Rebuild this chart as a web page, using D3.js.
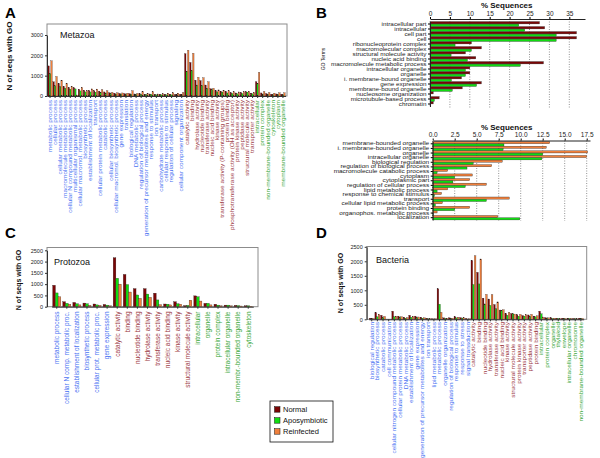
<!DOCTYPE html>
<html><head><meta charset="utf-8">
<script src="https://cdn.jsdelivr.net/npm/d3@7"></script>
<style>body{margin:0;background:#fff} svg{display:block} text{font-family:"Liberation Sans",Arial,sans-serif}</style>
</head><body>
<svg id="c" width="600" height="458"></svg>
<script>
// ---------- DATA ----------
const seriesNames = ["Normal", "Aposymbiotic", "Reinfected"];

// Panel A (Metazoa)
const aBP = ["metabolic process","cellular process","cellular metabolic process","macromolecule metabolic process","cellular N compound metabolic process","multicellular organismal process","cellular macromol. metabolic process","biosynthetic process","establishment of localization","transport","cellular protein metabolic process","catabolic process","cellular biosynthetic process","cellular macromol. biosynthetic process","gene expression","translation","biological regulation","DNA metabolic process","regulation of biological process","generation of precursor metabolites and energy","response to stimulus","ion transport","carbohydrate metabolic process","cellular response to stimulus","regulation of cellular process","signaling","cellular component organization"];
const aMF = ["catalytic activity","binding","hydrolase activity","nucleotide binding","transferase activity","nucleic acid binding","kinase activity","transferase activity (P-containing groups)","protein binding","phosphotransferase activity (OH as acceptor)","protein kinase activity","peptidase activity","structural molecule activity","transporter activity"];
const aCC = ["intracellular","protein complex","non-membrane-bounded organelle","cytoskeleton","cytoplasm","membrane-bounded organelle"];
const aNormal = [1480,700,620,470,420,400,330,280,270,260,240,200,160,140,130,120,120,100,110,90,100,80,80,80,90,80,90,
  2080,1650,780,760,540,360,270,240,230,160,150,170,210,140,
  700,150,120,90,100,90];
const aApo = [1100,500,460,380,330,350,250,200,200,190,180,150,110,100,100,80,90,80,80,70,80,60,60,60,60,60,60,
  1220,1250,540,520,380,320,200,190,150,120,110,120,190,110,
  620,100,90,60,70,60];
const aReinf = [1730,960,780,620,470,50,420,270,350,340,310,260,180,160,150,140,260,130,220,120,210,100,110,140,160,140,170,
  2250,2100,920,900,700,380,300,270,260,210,200,210,230,180,
  1160,220,170,140,160,160];
const aTicks = [0,1000,2000,3000];

// Panel B top (% sequences, Normal vs Aposymbiotic)
const bTopTerms = ["intracellular part","intracellular","cell part","cell","ribonucleoprotein complex","macromolecular complex","structural molecule activity","nucleic acid binding","macromolecule metabolic process","intracellular organelle","organelle","i. membrane-bound organelle","gene expression","membrane-bound organelle","nucleosome organization","microtubule-based process","chromatin"];
const bTopNormal = [27.5,28.8,36.8,36.8,10.4,12.9,8.9,11.5,28.5,10.0,10.0,7.9,12.9,8.1,0.8,2.3,0.8];
const bTopApo = [22.3,23.8,31.7,31.7,6.3,10.4,5.3,9.4,22.7,8.9,8.9,5.4,11.7,5.6,0.1,1.1,0.1];
const bTopTicks = [0,5,10,15,20,25,30,35];

// Panel B bottom (% sequences, Reinfected vs Aposymbiotic)
const bBotTerms = ["membrane-bounded organelle","i. membrane-bounded organelle","organelle","intracellular organelle","biological regulation","regulation of biological process","macromolecule catabolic process","cytoplasm","cytoplasmic part","regulation of cellular process","lipid metabolic process","response to chemical stimulus","transport","cellular lipid metabolic process","protein binding","organophos. metabolic process","localization"];
const bBotReinf = [13.3,12.9,17.6,17.5,7.9,6.7,1.7,4.5,4.2,6.1,1.7,1.0,8.7,1.1,4.2,0.5,7.4];
const bBotApo = [8.1,8.0,12.5,12.4,4.6,3.9,0.5,2.5,2.3,3.7,0.5,0.2,6.1,0.3,2.5,0.05,9.9];
const bBotTicks = [0,2.5,5,7.5,10,12.5,15,17.5];

// Panel C (Protozoa)
const cBP = ["metabolic process","cellular N comp. metabolic proc.","establishment of localization","biosynthetic process","cellular prot. metabolic proc.","gene expression"];
const cMF = ["catalytic activity","binding","nucleotide binding","hydrolase activity","transferase activity","nucleic acid binding","kinase activity","structural molecule activity"];
const cCC = ["intracellular","organelle","protein complex","intracellular organelle","non-membr.-bounded organelle","cytoskeleton"];
const cNormal = [950,220,190,160,120,100, 2170,1430,800,800,600,120,220,50, 480,150,110,70,60,40];
const cApo = [610,150,130,130,80,70, 1260,980,520,560,300,110,130,60, 440,150,70,70,50,40];
const cReinf = [440,105,80,60,60,40, 1000,650,370,415,90,80,110,290, 250,80,40,40,30,20];
const cTicks = [0,500,1000,1500,2000,2500];

// Panel D (Bacteria)
const dBP = ["biological regulation","biosynthetic process","catabolic process","cell communication","cellular nitrogen compound metabolic process","cellular protein metabolic process","DNA metabolic process","establishment of localization","gene expression","generation of precursor metabolites and energy","ion transport","lipid metabolic process","metabolic process","organelle organization","regulation of biological process","response to stimulus","response to stress","signal transduction"];
const dMF = ["catalytic activity","binding","nucleotide binding","hydrolase activity","transferase activity","nucleic acid binding","kinase activity","structural molecule activity","protein kinase activity","transporter activity","peptidase activity","protein binding"];
const dCC = ["intracellular","protein complex","organelle","thylakoid","envelope","intracellular organelle","chromosome","non-membrane-bounded organelle"];
const dNormal = [40,230,140,0,280,110,70,140,110,70,40,20,1050,50,50,90,60,30,
  2030,1620,730,700,510,320,200,200,160,130,150,110,
  280,60,50,40,40,40,30,40];
const dApo = [20,90,60,0,90,70,40,70,60,40,20,10,520,30,30,50,40,10,
  1200,1220,530,480,360,300,140,190,110,110,100,90,
  190,40,30,30,30,30,20,30];
const dReinf = [30,170,100,0,110,90,60,100,80,50,30,20,240,40,40,70,50,20,
  2190,2080,860,850,600,330,240,180,170,160,170,120,
  80,50,40,30,30,30,20,30];
const dTicks = [0,500,1000,1500,2000,2500];

// ---------- STYLE ----------
const SERIES_COL = ["#7b0505", "#11dd11", "#f0803c"];
const DOMCOL = {BP: "#4a72f2", MF: "#9c3b45", CC: "#3aa83a"};
const svg = d3.select("#c");

function vPanel(o) {
  const g = svg.append("g");
  const cats = o.bp.concat(o.mf, o.cc);
  const doms = o.bp.map(() => "BP").concat(o.mf.map(() => "MF"), o.cc.map(() => "CC"));
  const idx = d3.range(cats.length);
  const x = d3.scaleBand().domain(idx).range([o.r0, o.r1]).paddingInner(o.pad).paddingOuter(o.pad / 2);
  const xs = d3.scaleBand().domain([0, 1, 2]).range([0, x.bandwidth()]);
  const y = d3.scaleLinear().domain([0, o.yRef]).range([o.base, o.yRefPix]);
  g.append("rect").attr("x", o.fx0).attr("y", o.ftop).attr("width", o.fx1 - o.fx0).attr("height", o.base - o.ftop)
    .attr("fill", "none").attr("stroke", "#8c8c8c").attr("stroke-width", 1);
  [o.n, o.a, o.r].forEach((vals, s) => {
    g.append("g").selectAll("rect").data(idx).join("rect")
      .attr("x", i => x(i) + xs(s)).attr("width", xs.bandwidth())
      .attr("y", i => y(vals[i])).attr("height", i => o.base - y(vals[i]))
      .attr("fill", SERIES_COL[s]).attr("stroke", "#2a1a1a").attr("stroke-width", o.stroke);
  });
  g.append("g").attr("transform", `translate(${o.fx0},0)`)
    .call(d3.axisLeft(y).tickValues(o.ticks).tickSize(2).tickSizeOuter(0).tickPadding(2).tickFormat(d3.format("d")))
    .call(a => { a.select(".domain").attr("stroke", "#333");
      a.selectAll("line").attr("stroke", "#333");
      a.selectAll("text").attr("font-size", o.tickFont).attr("fill", "#222").attr("font-family", null); });
  g.append("g").attr("transform", `translate(0,${o.base})`)
    .call(d3.axisBottom(x).tickSize(2).tickSizeOuter(0).tickFormat(""))
    .call(a => { a.select(".domain").attr("stroke", "#333"); a.selectAll("line").attr("stroke", "#333"); });
  g.append("g").selectAll("text").data(idx).join("text")
    .attr("transform", i => `translate(${x(i) + x.bandwidth() / 2},${o.labY}) rotate(-90) scale(${o.labStretch},1)`)
    .attr("text-anchor", "end").attr("dy", "0.35em").attr("font-size", o.labFont)
    .attr("fill", i => DOMCOL[doms[i]]).text(i => cats[i]);
  g.append("text").attr("x", o.nameX).attr("y", o.nameY).attr("font-size", 9).attr("fill", "#111").text(o.name);
  g.append("text").attr("transform", `translate(${o.ytX},${o.ytY}) rotate(-90)`).attr("text-anchor", "middle")
    .attr("font-size", o.ytFont).attr("font-weight", "bold").attr("fill", "#111").text("N of seqs with GO");
}

function hPanel(o) {
  const g = svg.append("g");
  const idx = d3.range(o.terms.length);
  const yb = d3.scaleBand().domain(idx).range([o.top, o.bottom]);
  const ys = d3.scaleBand().domain([0, 1]).range([0, yb.bandwidth()]).paddingInner(0.08).paddingOuter(0.04);
  const x0 = d3.scaleLinear().domain([0, o.xRef]).range([o.x0, o.xRefPix]);
  const x = d3.scaleLinear().domain([0, x0.invert(o.axisEnd)]).range([o.x0, o.axisEnd]);
  g.append("g").selectAll("line").data(o.ticks.filter(t => t > 0)).join("line")
    .attr("x1", d => x(d)).attr("x2", d => x(d)).attr("y1", o.axisY).attr("y2", o.bottom + 1)
    .attr("stroke", "#666").attr("stroke-width", 0.7).attr("stroke-dasharray", "1,1.5");
  o.series.forEach((vals, s) => {
    g.append("g").selectAll("rect").data(idx).join("rect")
      .attr("x", o.x0).attr("y", i => yb(i) + ys(s)).attr("height", ys.bandwidth())
      .attr("width", i => x(vals[i]) - o.x0)
      .attr("fill", o.colors[s]).attr("stroke", "#222").attr("stroke-width", 0.35);
  });
  g.append("g").attr("transform", `translate(0,${o.axisY})`)
    .call(d3.axisTop(x).tickValues(o.ticks).tickSize(2).tickSizeOuter(0).tickPadding(1.5).tickFormat(o.fmt))
    .call(a => { a.select(".domain").attr("stroke", "#222");
      a.selectAll("text").attr("font-size", 6.5).attr("fill", "#222").attr("font-family", null); });
  g.append("g").attr("transform", `translate(${o.x0},0)`)
    .call(d3.axisLeft(yb).tickSize(2).tickSizeOuter(0).tickPadding(1.5).tickFormat(i => o.terms[i]))
    .call(a => { a.select(".domain").attr("stroke", "#222");
      a.selectAll("text").attr("font-size", o.labFont).attr("fill", "#222").attr("font-family", null)
        .attr("x", -3.5 / o.labStretch).attr("transform", `scale(${o.labStretch},1)`); });
  g.append("text").attr("x", o.titleX).attr("y", o.titleY).attr("text-anchor", "middle")
    .attr("font-size", 8).attr("font-weight", "bold").attr("fill", "#111").text("% Sequences");
}

// Panel letters
[["A", 5, 18], ["B", 316, 18], ["C", 5, 238], ["D", 316, 238]].forEach(([t, x, y]) =>
  svg.append("text").attr("x", x).attr("y", y).attr("font-size", 15).attr("font-weight", "bold").text(t));

vPanel({bp: aBP, mf: aMF, cc: aCC, n: aNormal, a: aApo, r: aReinf, ticks: aTicks,
  r0: 47.5, r1: 285.5, pad: 0.12, fx0: 47, fx1: 287, ftop: 24, base: 96, yRef: 3000, yRefPix: 35,
  tickFont: 5.5, labY: 100, labFont: 5, labStretch: 1.3, name: "Metazoa", nameX: 60, nameY: 38,
  ytX: 12, ytY: 56, ytFont: 8, stroke: 0.25});

vPanel({bp: cBP, mf: cMF, cc: cCC, n: cNormal, a: cApo, r: cReinf, ticks: cTicks,
  r0: 51.7, r1: 253.3, pad: 0.2, fx0: 47, fx1: 258, ftop: 247.5, base: 306.7, yRef: 2500, yRefPix: 250.3,
  tickFont: 5.5, labY: 311.5, labFont: 6.5, labStretch: 1, name: "Protozoa", nameX: 54, nameY: 265,
  ytX: 21, ytY: 280, ytFont: 7, stroke: 0.3});

vPanel({bp: dBP, mf: dMF, cc: dCC, n: dNormal, a: dApo, r: dReinf, ticks: dTicks,
  r0: 368.9, r1: 583.7, pad: 0.12, fx0: 366.7, fx1: 586.7, ftop: 246.5, base: 319.3, yRef: 2500, yRefPix: 246.8,
  tickFont: 5.5, labY: 322, labFont: 5.4, labStretch: 1.2, name: "Bacteria", nameX: 376, nameY: 263,
  ytX: 343, ytY: 283, ytFont: 7, stroke: 0.25});

hPanel({terms: bTopTerms, series: [bTopNormal, bTopApo], colors: [SERIES_COL[0], SERIES_COL[1]],
  ticks: bTopTicks, fmt: d3.format("d"), x0: 430, xRef: 35, xRefPix: 569.3, axisEnd: 585,
  axisY: 19, top: 21.5, bottom: 106.5, labFont: 5.1, labStretch: 1.24, titleX: 506.7, titleY: 7.8});
svg.append("text").attr("transform", "translate(325,59) rotate(-90)").attr("text-anchor", "middle")
  .attr("font-size", 5).attr("fill", "#222").text("GO Terms");

hPanel({terms: bBotTerms, series: [bBotReinf, bBotApo], colors: [SERIES_COL[2], SERIES_COL[1]],
  ticks: bBotTicks, fmt: d3.format(".1f"), x0: 432.7, xRef: 17.5, xRefPix: 586.7, axisEnd: 590,
  axisY: 140.5, top: 141.5, bottom: 220, labFont: 4.8, labStretch: 1.35, titleX: 506.7, titleY: 129.5});

// Legend
const lg = svg.append("g");
lg.append("rect").attr("x", 270).attr("y", 401).attr("width", 63).attr("height", 41)
  .attr("fill", "#fff").attr("stroke", "#111").attr("stroke-width", 0.8);
seriesNames.forEach((s, i) => {
  const cy = 409.5 + i * 11;
  lg.append("rect").attr("x", 274.5).attr("y", cy - 2.8).attr("width", 5.5).attr("height", 5.5)
    .attr("fill", SERIES_COL[i]).attr("stroke", "#111").attr("stroke-width", 0.5);
  lg.append("text").attr("x", 283).attr("y", cy).attr("dy", "0.35em").attr("font-size", 7.5).attr("fill", "#111").text(s);
});
</script>
</body></html>
